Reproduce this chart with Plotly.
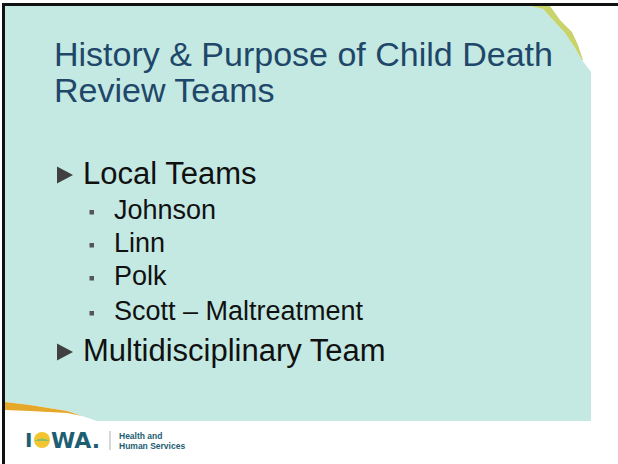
import plotly.graph_objects as go

# ---- content ----
title_lines = ["History & Purpose of Child Death", "Review Teams"]
main_bullets = ["Local Teams", "Multidisciplinary Team"]
sub_bullets = ["Johnson", "Linn", "Polk", "Scott – Maltreatment"]
logo_word = ["I", "WA."]
logo_tag = ["Health and", "Human Services"]

# ---- layout constants (pixels) ----
W, H = 618, 464
TEAL = "#c4e9e2"
NAVY = "#1f4769"
LOGO = "#1d5e72"
FONT = "Liberation Sans, Arial, sans-serif"

title_y = [54, 90]
main_y = [173, 350]
sub_y = [210, 243, 276, 311]

fig = go.Figure()
fig.add_trace(go.Scatter(x=[0], y=[0], mode="markers", marker=dict(opacity=0), hoverinfo="skip", showlegend=False))

shapes = []
# teal background panel
shapes.append(dict(type="path", xref="x", yref="y",
    path="M 5,6 L 530,6 L 543,9 L 553,20 L 565,33 L 575,48 L 582,60 L 591,72 L 591,421 "
         "L 97,421 L 82,416 L 67,411 L 30,405 L 5,402 Z",
    fillcolor=TEAL, line=dict(width=0), layer="below"))
# yellow-green sliver top right
shapes.append(dict(type="path", xref="x", yref="y",
    path="M 530,6 L 550,6 L 560,20 L 572,32 L 578,45 L 583,60 L 582,60 L 575,48 L 565,33 L 553,20 L 543,9 Z",
    fillcolor="#c8d36b", line=dict(width=0), layer="below"))
# orange swoosh bottom left
shapes.append(dict(type="path", xref="x", yref="y",
    path="M 5,402 L 30,405 L 67,411 L 82,416 L 67,413 L 30,411 L 5,410 Z",
    fillcolor="#e6a82a", line=dict(width=0), layer="below"))
# black frame lines (top & left)
shapes.append(dict(type="rect", xref="x", yref="y", x0=2, x1=W, y0=3, y1=6,
                   fillcolor="#111111", line=dict(width=0)))
shapes.append(dict(type="rect", xref="x", yref="y", x0=2, x1=5, y0=3, y1=H,
                   fillcolor="#111111", line=dict(width=0)))

# triangle bullets
for cy in main_y:
    ty = cy + 2
    shapes.append(dict(type="path", xref="x", yref="y",
        path=f"M 57,{ty-8.5} L 73,{ty} L 57,{ty+8.5} Z",
        fillcolor="#404040", line=dict(width=0)))
# square bullets
for cy in sub_y:
    shapes.append(dict(type="rect", xref="x", yref="y", x0=89.5, x1=94, y0=cy, y1=cy + 4.5,
                       fillcolor="#555555", line=dict(width=0)))

# logo sun "O"
shapes.append(dict(type="circle", xref="x", yref="y", x0=34, x1=50, y0=432, y1=448,
                   fillcolor="#f2c531", line=dict(width=0)))
shapes.append(dict(type="path", xref="x", yref="y",
    path="M 34.1,441 Q 42,436 49.9,441 A 8 8 0 0 1 34.1,441 Z",
    fillcolor="#86c06a", line=dict(width=0)))
# logo divider
shapes.append(dict(type="line", xref="x", yref="y", x0=110, x1=110, y0=431, y1=450,
                   line=dict(color="#b0b0b0", width=1)))

ann = []
for t, y in zip(title_lines, title_y):
    ann.append(dict(x=52, y=y, text=t, xanchor="left", yanchor="middle", showarrow=False,
                    font=dict(family=FONT, size=34, color=NAVY)))
for t, y in zip(main_bullets, main_y):
    ann.append(dict(x=81, y=y, text=t, xanchor="left", yanchor="middle", showarrow=False,
                    font=dict(family=FONT, size=31, color="#111111")))
for t, y in zip(sub_bullets, sub_y):
    ann.append(dict(x=112, y=y, text=t, xanchor="left", yanchor="middle", showarrow=False,
                    font=dict(family=FONT, size=27, color="#111111")))
# logo text
LOGO_FONT = "DejaVu Sans, sans-serif"
ann.append(dict(x=23, y=440, text=f"<b>{logo_word[0]}</b>", xanchor="left", yanchor="middle",
                showarrow=False, font=dict(family=LOGO_FONT, size=20, color=LOGO)))
ann.append(dict(x=49, y=440, text=f"<b>{logo_word[1]}</b>", xanchor="left", yanchor="middle",
                showarrow=False, font=dict(family=LOGO_FONT, size=22, color=LOGO)))
for t, y in zip(logo_tag, [436, 446]):
    ann.append(dict(x=117, y=y, text=f"<b>{t}</b>", xanchor="left", yanchor="middle",
                    showarrow=False, font=dict(family=FONT, size=8.5, color=LOGO)))

fig.update_layout(
    width=W, height=H, margin=dict(l=0, r=0, t=0, b=0),
    paper_bgcolor="white", plot_bgcolor="white",
    xaxis=dict(range=[0, W], visible=False, fixedrange=True),
    yaxis=dict(range=[H, 0], visible=False, fixedrange=True),
    shapes=shapes, annotations=ann, showlegend=False,
)
fig.write_html("out.html", config={"displayModeBar": False},
               post_script="document.body.style.margin='0';document.body.style.overflow='hidden';")
